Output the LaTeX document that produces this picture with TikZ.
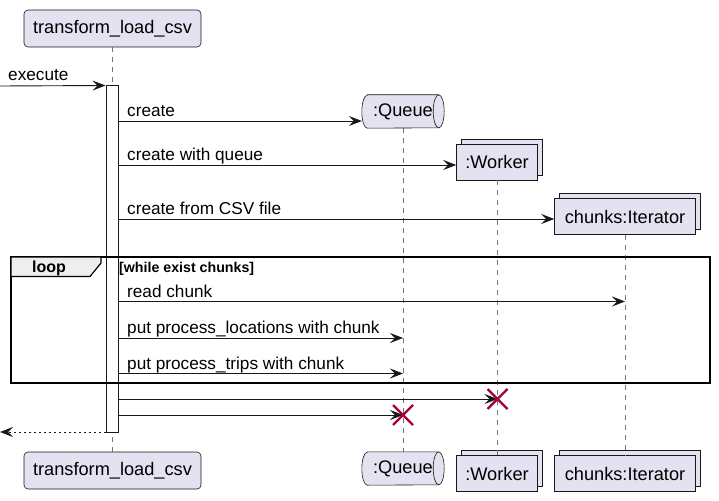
\documentclass[tikz,border=0pt]{standalone}
\usepackage{fontspec}
\setmainfont{Liberation Sans}
\usetikzlibrary{arrows.meta,shadows,calc}
\definecolor{partfill}{HTML}{E2E2F0}
\definecolor{partline}{HTML}{181818}
\definecolor{killred}{HTML}{A80036}
\definecolor{tabfill}{HTML}{EEEEEE}
\newcommand\queueshape[1]{%
  \draw[draw=partline,fill=partfill,line width=0.6pt]
    ($(#1.north west)+(5.5,0)$) -- ($(#1.north east)+(-5.5,0)$)
    arc[start angle=270,end angle=450,x radius=5.5,y radius=16.5]
    -- ($(#1.south west)+(5.5,0)$)
    arc[start angle=90,end angle=270,x radius=5.5,y radius=16.5] -- cycle;
  \draw[draw=partline,line width=0.6pt]
    ($(#1.north east)+(-5.5,0)$)
    arc[start angle=270,end angle=90,x radius=5.5,y radius=16.5];
}
\begin{document}
\begin{tikzpicture}[x=1pt,y=-1pt,
  pfont/.style={font=\fontsize{18.2}{21}\selectfont},
  participant/.style={draw=partline,fill=partfill,line width=0.6pt,rounded corners=4pt,minimum height=37pt,inner sep=0pt,pfont},
  collection/.style={draw=partline,fill=partfill,line width=0.6pt,minimum height=36pt,inner sep=0pt,pfont,copy shadow={shadow xshift=5pt,shadow yshift=5pt}},
  queuebox/.style={minimum width=82pt,minimum height=33pt,inner sep=0pt,pfont},
  lifeline/.style={draw=partline!60,line width=0.8pt,dash pattern=on 5pt off 5pt},
  actbar/.style={draw=partline,fill=white,line width=1pt,minimum width=12pt,inner sep=0pt},
  msg/.style={draw=partline,line width=0.9pt,-{Stealth[length=13pt,width=10pt,inset=5pt]}},
  retmsg/.style={msg,dash pattern=on 2.5pt off 2.5pt},
  mtext/.style={anchor=base west,inner sep=0pt,font=\fontsize{17.2}{19}\selectfont},
  killline/.style={draw=killred,line width=2.2pt},
  groupbox/.style={draw=black,line width=1.6pt},
  grouptab/.style={draw=black,fill=tabfill,line width=1.2pt},
  grouplabel/.style={anchor=base,inner sep=0pt,font=\bfseries\fontsize{16}{18}\selectfont},
  guardtext/.style={anchor=base west,inner sep=0pt,font=\bfseries\fontsize{14.2}{16}\selectfont}
]
\useasboundingbox (0,0) rectangle (719,500);

% participants (top)
\node[participant,minimum width=177pt] (tlcT) at (112.5,28.5) {transform\_load\_csv};
\node[queuebox] (qT) at (403,111.5) {:Queue\hspace{11pt}};
\node[collection,minimum width=81pt] (wT) at (497,162) {:Worker};
\node[collection,minimum width=141pt] (iT) at (625,216.5) {chunks:Iterator};
% participants (bottom)
\node[participant,minimum width=177pt] (tlcB) at (112.5,470.5) {transform\_load\_csv};
\node[queuebox] (qB) at (403,468.5) {:Queue\hspace{11pt}};
\node[collection,minimum width=81pt] (wB) at (497,473.5) {:Worker};
\node[collection,minimum width=141pt] (iB) at (625,473.5) {chunks:Iterator};

% lifelines
\draw[lifeline] (tlcT) -- (tlcB);
\draw[lifeline] (qT) -- (qB);
\draw[lifeline] (wT) -- (wB);
\draw[lifeline] (iT) -- (iB);

\queueshape{qT}
\node[queuebox] at (qT) {:Queue\hspace{11pt}};
\queueshape{qB}
\node[queuebox] at (qB) {:Queue\hspace{11pt}};

% activation bar
\node[actbar,minimum height=346pt] (act) at (112,259) {};

% loop group
\draw[groupbox] (11,257) rectangle (710,383);
\draw[grouptab] (11,257) -- (101,257) -- (101,263) -- (90,276.5) -- (11,276.5) -- cycle;
\node[grouplabel] (looplbl) at (49,272.5) {loop};
\node[guardtext] (guard) at (119,272) {[while exist chunks]};

% coordinates on the activation bar
\coordinate (inL) at (0,86);
\coordinate (a0) at (act.north west);
\coordinate (a1) at (118,121);
\coordinate (a2) at (118,165);
\coordinate (a3) at (118,219);
\coordinate (a4) at (118,301.5);
\coordinate (a5) at (118,338);
\coordinate (a6) at (118,373.5);
\coordinate (a7) at (118,399);
\coordinate (a8) at (118,415);
\coordinate (a9) at (106,432);
\coordinate (outL) at (0,432);
\coordinate (kw) at (497.5,399);
\coordinate (kq) at (403,415);

% messages
\draw[msg] (inL) -- (a0);
\node[mtext] (t0) at (8,81) {execute};
\draw[msg] (a1) -- (qT.west |- a1);
\node[mtext] (t1) at (127,116.5) {create};
\draw[msg] (a2) -- (wT.west |- a2);
\node[mtext] (t2) at (127,160.5) {create with queue};
\draw[msg] (a3) -- (iT.west |- a3);
\node[mtext] (t3) at (127,214.5) {create from CSV file};
\draw[msg] (a4) -- (iT.center |- a4);
\node[mtext] (t4) at (127,297) {read chunk};
\draw[msg] (a5) -- (qT.center |- a5);
\node[mtext] (t5) at (127,333.5) {put process\_locations with chunk};
\draw[msg] (a6) -- (qT.center |- a6);
\node[mtext] (t6) at (127,369) {put process\_trips with chunk};
\draw[msg] (a7) -- (kw);
\draw[msg] (a8) -- (kq);
\draw[retmsg] (a9) -- (outL);

% destruction marks
\draw[killline] ($(kw)+(-10,-10)$) -- ($(kw)+(10,10)$);
\draw[killline] ($(kw)+(-10,10)$) -- ($(kw)+(10,-10)$);
\draw[killline] ($(kq)+(-10,-10)$) -- ($(kq)+(10,10)$);
\draw[killline] ($(kq)+(-10,10)$) -- ($(kq)+(10,-10)$);
\end{tikzpicture}
\end{document}
